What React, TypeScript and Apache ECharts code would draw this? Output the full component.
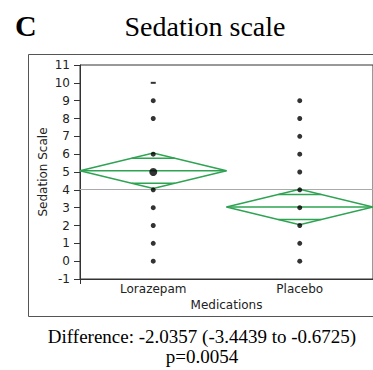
import React, { useEffect, useRef } from "react";
import * as echarts from "echarts";

const categories = ["Lorazepam", "Placebo"];
const lorazepamScores = [0, 1, 2, 3, 4, 5, 6, 8, 9, 10];
const placeboScores = [0, 1, 2, 3, 4, 5, 6, 7, 8, 9];
const groupMeans = [5.07, 3.04];
const ciLower = [4.08, 2.05];
const ciUpper = [6.06, 4.03];
const grandMean = 4.06;
const yMin = -1;
const yMax = 11;
const yInterval = 1;
const titleText = "Sedation scale";
const panelLetter = "C";
const differenceText = "Difference: -2.0357 (-3.4439 to -0.6725)";
const pText = "p=0.0054";

const GREEN = "#2ea352";
const AXIS = "#333";
const SANS = "DejaVu Sans";
const SERIF = "Liberation Serif";

export default function App() {
  const ref = useRef<HTMLDivElement>(null);
  useEffect(() => {
    if (!ref.current) return;
    const chart = echarts.init(ref.current, null, { renderer: "svg" });

    const diamondData = categories.map((_, i) => [i, groupMeans[i], ciLower[i], ciUpper[i]]);

    const scatterData: any[] = [];
    lorazepamScores.forEach((v) => {
      const item: any = { value: [0, v] };
      if (v === 5) item.symbolSize = 8;
      if (v === 10) {
        item.symbol = "rect";
        item.symbolSize = [5, 2];
      }
      scatterData.push(item);
    });
    placeboScores.forEach((v) => scatterData.push({ value: [1, v] }));

    const option: any = {
      animation: false,
      backgroundColor: "#fff",
      grid: {
        left: 80,
        top: 65,
        width: 296,
        height: 214,
        show: true,
        borderColor: AXIS,
        borderWidth: 1,
        backgroundColor: "transparent",
      },
      xAxis: {
        type: "category",
        data: categories,
        boundaryGap: true,
        name: "Medications",
        nameLocation: "middle",
        nameGap: 20,
        nameMoveOverlap: false,
        nameTextStyle: { fontFamily: SANS, fontSize: 12, color: "#222" },
        axisLine: { onZero: false, lineStyle: { color: AXIS, width: 1 } },
        axisTick: {
          show: true,
          length: 5,
          interval: (index: number) => index === 1,
          lineStyle: { color: AXIS },
        },
        axisLabel: { fontFamily: SANS, fontSize: 12, color: "#222", margin: 4 },
        splitLine: { show: false },
      },
      yAxis: {
        type: "value",
        min: yMin,
        max: yMax,
        interval: yInterval,
        name: "Sedation Scale",
        nameLocation: "middle",
        nameGap: 31,
        nameMoveOverlap: false,
        nameRotate: 90,
        nameTextStyle: { fontFamily: SANS, fontSize: 12, color: "#222" },
        axisLine: { show: true, onZero: false, lineStyle: { color: AXIS, width: 1 } },
        axisTick: { show: true, length: 6, lineStyle: { color: AXIS } },
        axisLabel: { fontFamily: SANS, fontSize: 12, color: "#222", margin: 10 },
        splitLine: { show: false },
      },
      graphic: [
        {
          type: "rect",
          shape: { x: 28.5, y: 54.5, width: 400, height: 262 },
          style: { fill: "none", stroke: "#555", lineWidth: 1 },
          z: -1,
        },
        {
          type: "text",
          left: 15,
          top: 10,
          style: {
            text: panelLetter,
            font: `bold 30px "${SERIF}"`,
            fill: "#000",
          },
        },
        {
          type: "text",
          x: 205,
          y: 26,
          style: {
            text: titleText,
            font: `28px "${SERIF}"`,
            fill: "#000",
            textAlign: "center",
            textVerticalAlign: "middle",
          },
        },
        {
          type: "text",
          x: 202,
          y: 336,
          style: {
            text: differenceText,
            font: `19px "${SERIF}"`,
            fill: "#000",
            textAlign: "center",
            textVerticalAlign: "middle",
          },
        },
        {
          type: "text",
          x: 202,
          y: 356,
          style: {
            text: pText,
            font: `19px "${SERIF}"`,
            fill: "#000",
            textAlign: "center",
            textVerticalAlign: "middle",
          },
        },
      ],
      series: [
        {
          type: "custom",
          coordinateSystem: "cartesian2d",
          data: diamondData,
          z: 2,
          silent: true,
          markLine: {
            silent: true,
            symbol: "none",
            label: { show: false },
            lineStyle: { color: "#aaa", width: 1.2, type: "solid" },
            data: [{ yAxis: grandMean }],
            z: 1,
          },
          renderItem: (params: any, api: any) => {
            const c = api.value(0);
            const mean = api.value(1);
            const lo = api.value(2);
            const hi = api.value(3);
            const center = api.coord([c, mean]);
            const top = api.coord([c, hi]);
            const bot = api.coord([c, lo]);
            const half = api.size([1, 0])[0] / 2;
            const style = { stroke: GREEN, fill: "none", lineWidth: 1.5 };
            const hHalf = (hi - lo) / 2;
            const off = hHalf / Math.SQRT2;
            const upY = api.coord([c, mean + off])[1];
            const dnY = api.coord([c, mean - off])[1];
            const frac = 1 - off / hHalf;
            const w = half * frac;
            return {
              type: "group",
              children: [
                {
                  type: "polygon",
                  shape: {
                    points: [
                      [center[0] - half, center[1]],
                      [center[0], top[1]],
                      [center[0] + half, center[1]],
                      [center[0], bot[1]],
                    ],
                  },
                  style,
                },
                {
                  type: "line",
                  shape: { x1: center[0] - half, y1: center[1], x2: center[0] + half, y2: center[1] },
                  style,
                },
                {
                  type: "line",
                  shape: { x1: center[0] - w, y1: upY, x2: center[0] + w, y2: upY },
                  style,
                },
                {
                  type: "line",
                  shape: { x1: center[0] - w, y1: dnY, x2: center[0] + w, y2: dnY },
                  style,
                },
              ],
            };
          },
        },
        {
          type: "scatter",
          data: scatterData,
          symbol: "circle",
          symbolSize: 5,
          itemStyle: { color: "#000" },
          z: 5,
          silent: true,
        },
      ],
    };
    chart.setOption(option);
    return () => chart.dispose();
  }, []);
  return (
    <div
      ref={ref}
      style={{ position: "absolute", left: 0, top: 0, width: 373, height: 370, background: "#fff" }}
    />
  );
}
